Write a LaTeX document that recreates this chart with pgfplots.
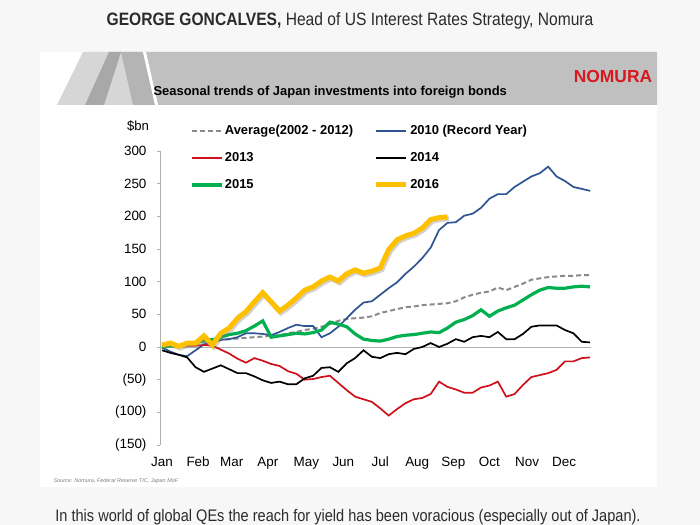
\documentclass[border=0pt]{standalone}
\usepackage{fontspec}
\setmainfont{Liberation Sans}
\newfontfamily\condfont[FakeStretch=0.87]{Liberation Sans}
\usepackage{pgfplots}
\usepackage{pgfplotstable}
\pgfplotsset{compat=1.18}
\pgfdeclarelayer{bg}
\pgfsetlayers{bg,main}
\definecolor{pagebg}{HTML}{F7F7F7}
\definecolor{bandgray}{HTML}{C0C0C0}
\definecolor{lightband}{HTML}{D6D6D6}
\definecolor{darkband}{HTML}{A8A8A8}
\definecolor{midband}{HTML}{B4B4B4}
\definecolor{nomred}{HTML}{D7191F}
\definecolor{axgray}{HTML}{B0B0B0}
\definecolor{avggray}{HTML}{8A8A8A}
\definecolor{c2010}{RGB}{46,84,146}
\definecolor{c2013}{RGB}{208,16,26}
\definecolor{c2015}{RGB}{0,176,80}
\definecolor{c2016}{RGB}{255,192,0}
\definecolor{txtdark}{HTML}{2B2B2B}

\pgfplotstableread{
wk avg y2010 y2013 y2014 y2015
0 0 -1 5 -5 0
1 1 -7 4 -9 2
2 2 -12 3 -12 1
3 3 -14 2 -16 4
4 5 -5 2 -31 6
5 7 4 3 -38 11
6 9 6 2 -33 11
7 11 11 -4 -28 15
8 12 12 -10 -34 19
9 13 15 -18 -40 21
10 14 21 -24 -40 25
11 15 21 -17 -45 32
12 16 20 -21 -51 40
13 17 18 -26 -55 15
14 18 23 -29 -53 17
15 21 29 -37 -57 19
16 23 34 -41 -57 21
17 26 32 -50 -48 20
18 28 32 -49 -44 22
19 31 15 -46 -32 26
20 35 21 -44 -31 38
21 40 31 -55 -38 35
22 43 44 -66 -25 31
23 44 57 -76 -17 20
24 45 68 -80 -5 12
25 47 70 -84 -15 10
26 52 80 -94 -17 9
27 55 90 -105 -11 12
28 58 99 -95 -9 16
29 61 112 -86 -11 18
30 62 123 -80 -3 19
31 64 136 -78 0 21
32 65 152 -72 6 23
33 66 179 -53 0 22
34 67 190 -61 5 29
35 70 191 -65 12 38
36 76 201 -70 8 42
37 80 204 -70 15 48
38 83 213 -62 17 57
39 85 227 -59 15 47
40 91 234 -53 23 55
41 87 234 -76 12 60
42 92 245 -72 12 64
43 97 253 -58 20 72
44 103 261 -46 31 80
45 105 266 -43 33 87
46 107 276 -40 33 91
47 108 261 -35 33 90
48 109 254 -22 26 90
49 109 245 -22 21 92
50 110 242 -17 8 93
51 110 239 -16 7 92
}\mainTable

\pgfplotstableread{
wk y2016
0 3
1 6
2 1
3 6
4 6
5 17
6 3
7 21
8 29
9 44
10 54
11 69
12 83
13 69
14 55
15 64
16 75
17 87
18 92
19 101
20 107
21 101
22 112
23 118
24 113
25 116
26 121
27 149
28 164
29 170
30 174
31 182
32 195
33 198
34 199
}\yrTable

\begin{document}
\begin{tikzpicture}
\begin{axis}[
  scale only axis,
  width=431bp, height=294bp,
  xmin=-0.24, xmax=51.1, ymin=-150, ymax=300,
  axis y line*=left, axis x line*=bottom,
  x axis line style={draw=none},
  y axis line style={draw=axgray, line width=0.8bp},
  xtick style={draw=none},
  ytick style={draw=axgray, line width=0.8bp},
  tick align=outside, major tick length=3bp,
  ytick={-150,-100,-50,0,50,100,150,200,250,300},
  yticklabels={(150),(100),(50),0,50,100,150,200,250,300},
  xtick={0,4.3,8.3,12.6,17.2,21.6,26,30.4,34.7,39,43.5,47.9},
  xticklabels={Jan,Feb,Mar,Apr,May,Jun,Jul,Aug,Sep,Oct,Nov,Dec},
  tick label style={font=\fontsize{13.5}{15}\selectfont},
  yticklabel style={xshift=-7bp},
  xticklabel style={yshift=-5bp, text height=10bp, text depth=3bp},
  legend columns=2,
  legend cell align=left,
  legend style={at={(axis description cs:0.0696,1.096)}, anchor=north west,
    draw=none, fill=none, inner sep=0pt,
    font=\bfseries\fontsize{13}{15}\selectfont,
    nodes={inner sep=1.5bp, text height=10bp, text depth=3bp},
    /tikz/row sep=11bp,
    /tikz/every even column/.append style={column sep=19bp}},
  legend image code/.code={\draw[#1] (0bp,0bp) -- (30bp,0bp);},
]
\coordinate (O) at (rel axis cs:0,0);
\draw[axgray, line width=0.9bp] (axis cs:-0.24,0) -- (axis cs:51.1,0);
\addplot[avggray, line width=2bp, dash pattern=on 5bp off 3bp] table[x=wk,y=avg]{\mainTable};
\addlegendentry{Average(2002 - 2012)}
\addplot[c2010, line width=1.7bp] table[x=wk,y=y2010]{\mainTable};
\addlegendentry{2010 (Record Year)}
\addplot[c2013, line width=1.7bp] table[x=wk,y=y2013]{\mainTable};
\addlegendentry{2013}
\addplot[black, line width=1.7bp] table[x=wk,y=y2014]{\mainTable};
\addlegendentry{2014}
\addplot[c2015, line width=3.2bp] table[x=wk,y=y2015]{\mainTable};
\addlegendentry{2015}
\addplot[gray, opacity=0.35, line width=5bp, xshift=1.5bp, yshift=-1.8bp, forget plot] table[x=wk,y=y2016]{\yrTable};
\addplot[c2016, line width=5bp] table[x=wk,y=y2016]{\yrTable};
\addlegendentry{2016}
\end{axis}
% everything else relative to the axis corner O = pixel (160,445); X = px-160, Y = 445-py
\begin{scope}[shift={(O)}, x=1bp, y=1bp]
\begin{pgfonlayer}{bg}
\fill[pagebg] (-160,-80) rectangle (540,445);
\fill[white] (-120,-42) rectangle (497,393);
\fill[bandgray] (-15,393) -- (497,393) -- (497,340) -- (-2,340) -- cycle;
\fill[lightband] (-103,340) -- (-77,393) -- (-17,393) -- (-4,340) -- cycle;
\fill[darkband] (-75,340) -- (-51,393) -- (-39,393) -- (-56,340) -- cycle;
\fill[midband] (-39,393) -- (-17,393) -- (-5,340) -- (-27,340) -- cycle;
\fill[white] (-17,393) -- (-14,393) -- (-2,340) -- (-5,340) -- cycle;
\end{pgfonlayer}
\node[font=\bfseries\fontsize{17.5}{19}\selectfont, text=nomred] at (453,368) {NOMURA};
\node[anchor=west, font=\bfseries\fontsize{13}{15}\selectfont] at (-10,353) {Seasonal trends of Japan investments into foreign bonds};
\node[font=\condfont\fontsize{18}{21}\selectfont, text=txtdark] at (190,424) {\textbf{GEORGE GONCALVES,} Head of US Interest Rates Strategy, Nomura};
\node[anchor=base, font=\condfont\fontsize{16.8}{19}\selectfont, text=txtdark] at (188,-77) {In this world of global QEs the reach for yield has been voracious (especially out of Japan).};
\node[anchor=west, font=\itshape\fontsize{5.5}{6}\selectfont, text=gray] at (-110,-36) {Source: Nomura, Federal Reserve TIC, Japan MoF};
\node[font=\fontsize{13.2}{15}\selectfont] at (-22,319) {\$bn};
\pgfresetboundingbox
\useasboundingbox (-160,-80) rectangle (540,445);
\end{scope}
\end{tikzpicture}
\end{document}
